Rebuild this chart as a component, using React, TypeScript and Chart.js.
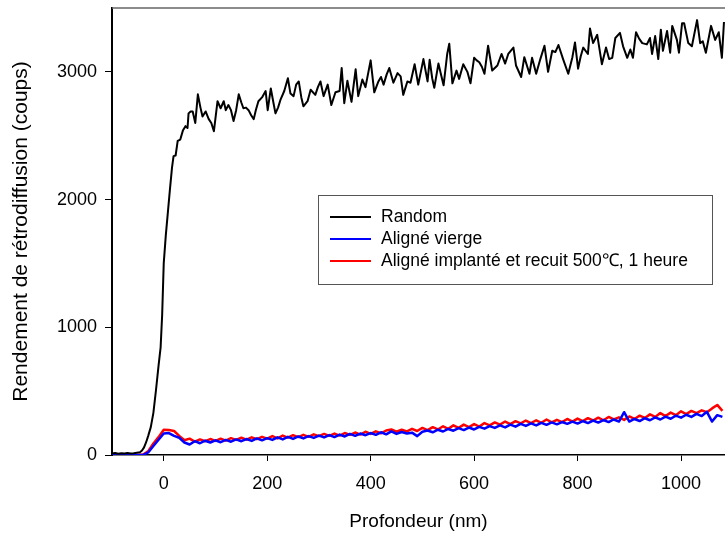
import React, { useEffect, useRef } from "react";
import { Chart, registerables } from "chart.js";

Chart.register(...registerables);

const depthRandom = [
  -100, -94, -88, -82, -76, -70, -64, -58, -52, -46, -42, -38, -34, -30, -25, -20, -15, -10, -6, -3,
  0, 4, 8, 12, 16, 19, 23, 27, 32, 37, 42, 46, 48, 52, 56, 61, 66, 71, 75, 81,
  87, 92, 97, 104, 110, 116, 120, 125, 130, 135, 140, 145, 150, 154, 159, 164, 169, 174, 178, 183,
  190, 197, 201, 207, 212, 216, 221, 226, 233, 240, 245, 251, 256, 261, 266, 270, 278, 284, 293, 298,
  303, 309, 317, 324, 332, 340, 344, 349, 355, 363, 371, 376, 384, 390, 400, 407, 415, 420, 425, 431,
  436, 444, 452, 458, 463, 471, 477, 485, 492, 502, 510, 514, 519, 523, 531, 536, 541, 548, 552, 558,
  566, 571, 579, 587, 593, 600, 605, 610, 615, 620, 627, 635, 645, 653, 660, 666, 676, 681, 691, 697,
  707, 712, 720, 728, 736, 743, 751, 757, 763, 772, 782, 790, 795, 801, 806, 811, 820, 824, 830, 838,
  847, 855, 861, 867, 873, 882, 888, 896, 902, 907, 913, 919, 925, 934, 940, 944, 950, 956, 961, 965,
  973, 979, 983, 992, 996, 1002, 1006, 1014, 1021, 1031, 1037, 1042, 1048, 1058, 1066, 1073, 1079, 1083,
];
const countsRandom = [
  12, 16, 10, 14, 12, 15, 11, 14, 18, 22, 35, 60, 100, 150, 218, 330, 507, 700, 843, 1100,
  1500, 1720, 1900, 2080, 2250, 2340, 2345, 2460, 2470, 2540, 2575, 2560, 2675, 2690, 2690, 2600, 2824, 2720, 2650, 2690,
  2630, 2600, 2535, 2770, 2715, 2770, 2700, 2740, 2700, 2615, 2700, 2824, 2760, 2715, 2720, 2700, 2660, 2630, 2700, 2770,
  2800, 2850, 2700, 2870, 2760, 2675, 2720, 2785, 2850, 2950, 2830, 2810, 2900, 2925, 2800, 2730, 2770, 2860, 2820, 2880,
  2925, 2810, 2900, 2740, 2840, 2850, 3030, 2755, 2930, 2765, 3020, 2810, 2940, 2880, 3090, 2840, 2925, 2960, 2900, 2980,
  3030, 2915, 2990, 2965, 2820, 2925, 2915, 3060, 2900, 3100, 2925, 3095, 2950, 2875, 3065, 2980, 2895, 3140, 3220, 2910,
  3010, 2945, 3060, 3000, 2910, 3110, 3090, 3075, 3040, 2985, 3205, 3010, 3050, 3140, 3065, 3140, 3190, 3050, 2960, 3115,
  2985, 3110, 2985, 3100, 3205, 3000, 3165, 3155, 3210, 3100, 2985, 3115, 3230, 3025, 3120, 3190, 3140, 3340, 3225, 3290,
  3060, 3190, 3100, 3110, 3265, 3305, 3200, 3110, 3175, 3110, 3310, 3260, 3225, 3215, 3265, 3140, 3280, 3100, 3330, 3165,
  3320, 3150, 3360, 3250, 3150, 3380, 3380, 3225, 3200, 3405, 3225, 3240, 3150, 3360, 3250, 3310, 3110, 3390,
];

const depthAligned = [
  -100, -90, -80, -70, -60, -50, -40, -30, -20, -10, 0, 10, 20, 30, 40, 50, 60, 70, 80, 90,
  100, 110, 120, 130, 140, 150, 160, 170, 180, 190, 200, 210, 220, 230, 240, 250, 260, 270, 280, 290,
  300, 310, 320, 330, 340, 350, 360, 370, 380, 390, 400, 410, 420, 430, 440, 450, 460, 470, 480, 490,
  500, 510, 520, 530, 540, 550, 560, 570, 580, 590, 600, 610, 620, 630, 640, 650, 660, 670, 680, 690,
  700, 710, 720, 730, 740, 750, 760, 770, 780, 790, 800, 810, 820, 830, 840, 850, 860, 870, 880, 890,
  900, 910, 920, 930, 940, 950, 960, 970, 980, 990, 1000, 1010, 1020, 1030, 1040, 1050, 1060, 1070, 1080,
];
const countsVierge = [
  0, 0, 0, 0, 0, 0, 0, 20, 70, 120, 168, 172, 150, 135, 98, 82, 108, 92, 112, 98,
  115, 100, 118, 104, 122, 108, 125, 110, 130, 115, 132, 118, 138, 122, 142, 126, 145, 130, 148, 134,
  152, 138, 156, 140, 160, 145, 165, 150, 168, 155, 172, 158, 178, 162, 185, 165, 180, 168, 175, 148,
  182, 192, 178, 198, 184, 204, 190, 210, 195, 215, 200, 220, 206, 226, 212, 232, 216, 238, 222, 244,
  228, 248, 232, 252, 236, 255, 240, 258, 244, 262, 246, 266, 250, 270, 254, 274, 258, 278, 262, 335,
  262, 282, 266, 288, 272, 294, 278, 300, 284, 308, 292, 315, 298, 322, 305, 338, 262, 312, 298,
];
const countsImplante = [
  0, 0, 0, 0, 0, 0, 3, 30, 90, 140, 198, 195, 188, 150, 115, 128, 105, 122, 108, 125,
  110, 128, 112, 132, 118, 135, 120, 138, 124, 142, 128, 148, 130, 152, 136, 155, 140, 158, 142, 162,
  148, 165, 150, 168, 152, 172, 158, 176, 160, 182, 165, 185, 170, 192, 200, 182, 198, 185, 205, 188,
  212, 195, 218, 200, 225, 205, 232, 212, 238, 218, 242, 222, 250, 232, 255, 238, 262, 242, 265, 248,
  270, 250, 272, 252, 278, 255, 275, 258, 282, 262, 285, 266, 288, 270, 292, 272, 298, 278, 295, 275,
  302, 282, 308, 290, 318, 298, 328, 305, 332, 312, 342, 320, 345, 328, 350, 335, 365, 392, 345,
];

const seriesLabels = ["Random", "Aligné vierge", "Aligné implanté et recuit 500℃, 1 heure"];
const seriesColors = ["#000000", "#0000ff", "#ff0000"];
const xTicks = [0, 200, 400, 600, 800, 1000];
const yTicks = [0, 1000, 2000, 3000];
const xTitle = "Profondeur (nm)";
const yTitle = "Rendement de rétrodiffusion (coups)";

const FONT = "'Liberation Sans', Arial, Helvetica, sans-serif";

const zip = (xs: number[], ys: number[]) => xs.map((x, i) => ({ x, y: ys[i] }));

const boxLegend = {
  id: "boxLegend",
  afterDraw(chart: any) {
    const { ctx, chartArea } = chart;
    ctx.save();
    ctx.strokeStyle = "#666";
    ctx.lineWidth = 1.5;
    ctx.beginPath();
    ctx.moveTo(chartArea.left, chartArea.top);
    ctx.lineTo(chartArea.right, chartArea.top);
    ctx.stroke();

    const left = chartArea.left + 206;
    const top = chartArea.top + 187;
    const w = 394;
    const h = 89;
    ctx.fillStyle = "#fff";
    ctx.fillRect(left, top, w, h);
    ctx.strokeStyle = "#555";
    ctx.lineWidth = 1;
    ctx.strokeRect(left + 0.5, top + 0.5, w, h);
    ctx.font = `17.5px ${FONT}`;
    ctx.textBaseline = "middle";
    ctx.textAlign = "left";
    chart.data.datasets.forEach((ds: any, i: number) => {
      const y = top + 22 + i * 22;
      ctx.strokeStyle = ds.borderColor;
      ctx.lineWidth = 2;
      ctx.beginPath();
      ctx.moveTo(left + 12, y);
      ctx.lineTo(left + 53, y);
      ctx.stroke();
      ctx.fillStyle = "#000";
      ctx.fillText(ds.label, left + 63, y);
    });
    ctx.restore();
  },
};

export default function App() {
  const ref = useRef<HTMLCanvasElement>(null);
  useEffect(() => {
    if (!ref.current) return;
    const chart = new Chart(ref.current, {
      type: "line",
      data: {
        datasets: [
          { label: seriesLabels[0], data: zip(depthRandom, countsRandom), borderColor: seriesColors[0], borderWidth: 2 },
          { label: seriesLabels[1], data: zip(depthAligned, countsVierge), borderColor: seriesColors[1], borderWidth: 2.5 },
          { label: seriesLabels[2], data: zip(depthAligned, countsImplante), borderColor: seriesColors[2], borderWidth: 2.5 },
        ].map((d) => ({ ...d, pointRadius: 0, tension: 0, fill: false, borderJoinStyle: "round" as const })),
      },
      options: {
        animation: false,
        responsive: true,
        maintainAspectRatio: false,
        layout: { padding: { top: 8, right: 0, left: 0, bottom: 0 } },
        plugins: { legend: { display: false }, tooltip: { enabled: false } },
        scales: {
          x: {
            type: "linear",
            min: -100,
            max: 1085,
            afterFit: (s: any) => { s.height = 82; s.paddingLeft = 0; s.paddingRight = 0; },
            afterBuildTicks: (s: any) => { s.ticks = xTicks.map((v) => ({ value: v })); },
            grid: { drawOnChartArea: false, drawTicks: true, tickLength: 6, color: "#000", lineWidth: 1 },
            border: { display: true, color: "#000", width: 1.5 },
            ticks: { color: "#000", padding: 12, font: { family: FONT, size: 18 }, maxRotation: 0, callback: (v: any) => String(v) },
            title: { display: true, text: xTitle, color: "#000", font: { family: FONT, size: 19 }, padding: { top: 0, bottom: 4 } },
          },
          y: {
            type: "linear",
            min: 0,
            max: 3500,
            afterFit: (s: any) => { s.width = 112; s.paddingTop = 0; s.paddingBottom = 0; },
            afterBuildTicks: (s: any) => { s.ticks = yTicks.map((v) => ({ value: v })); },
            grid: { drawOnChartArea: false, drawTicks: true, tickLength: 7, color: "#000", lineWidth: 1 },
            border: { display: true, color: "#000", width: 2 },
            ticks: { color: "#000", padding: 8, font: { family: FONT, size: 18 }, callback: (v: any) => String(v) },
            title: { display: true, text: yTitle, color: "#000", font: { family: FONT, size: 21 }, padding: { top: 9, bottom: 0 } },
          },
        },
      },
      plugins: [boxLegend],
    });
    return () => chart.destroy();
  }, []);
  return (
    <div style={{ position: "fixed", left: 0, top: 0, width: 725, height: 537, background: "#fff" }}>
      <canvas ref={ref} />
    </div>
  );
}
